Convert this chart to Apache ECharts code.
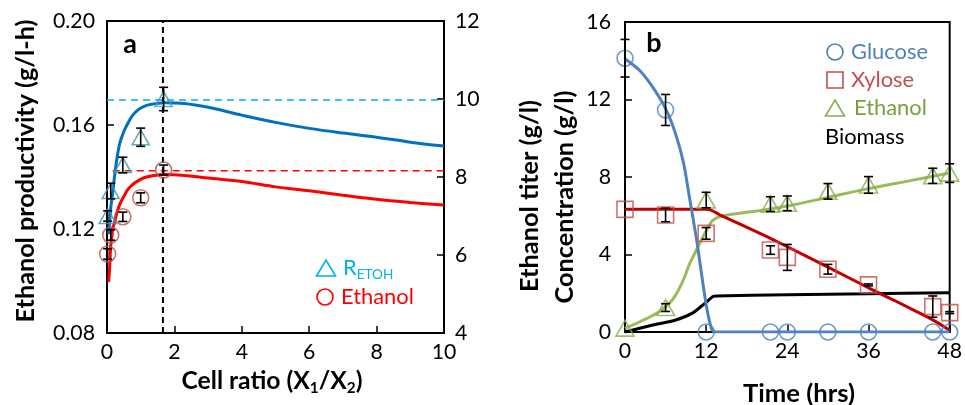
<!DOCTYPE html>
<html><head><meta charset="utf-8">
<script src="https://cdn.jsdelivr.net/npm/echarts@6/dist/echarts.min.js"></script>
<style>html,body{margin:0;padding:0;background:#fff}#c{width:965px;height:405px}</style>
</head><body><div id="c"></div>
<script>
// ---------- Panel a: productivity vs cell ratio ----------
const aPointX   = [0.02, 0.11, 0.47, 1.0, 1.68];
const aRateY    = [0.1250, 0.1346, 0.1446, 0.1553, 0.1700];
const aRateErr  = [0.002, 0.003, 0.003, 0.0035, 0.0045];
const aEthY     = [0.1104, 0.1177, 0.1247, 0.1320, 0.1427];
const aEthErr   = [0.002, 0.002, 0.0018, 0.0019, 0.0019];

const aCurveX    = [0.05,0.08,0.11,0.15,0.18,0.23,0.3,0.38,0.5,0.62,0.75,0.92,1.1,1.32,1.7,2.3,3,4,5,6,7,8,9,10];
const aRateCurve = [0.118,0.123,0.128,0.132,0.135,0.141,0.1475,0.153,0.1575,0.1607,0.1635,0.1658,0.1672,0.168,0.1686,0.1683,0.1668,0.1638,0.161,0.1587,0.1569,0.1553,0.1534,0.1519];
const aEthCurve  = [0.0997,0.1055,0.1132,0.118,0.1205,0.1228,0.1265,0.1295,0.1325,0.1352,0.137,0.1385,0.1397,0.1404,0.141,0.1406,0.1396,0.1383,0.1362,0.1347,0.133,0.1314,0.1302,0.1292];

const aRateRefX = [0, 10];   const aRateRefY = 0.1696;
const aEthRefX  = [0.17, 10]; const aEthRefY  = 0.1424;
const aPeakX = 1.66;          const aPeakY = [0.08, 0.20];

const aXTicks = [0, 10, 2];        // min, max, interval
const aYTicks = [0.08, 0.20, 0.04];
const aY2Ticks = [4, 12, 2];

// ---------- Panel b: time course ----------
const bTime        = [0, 6, 12, 21.5, 24, 30, 36, 45.5, 48];
const bGlucose     = [14.13, 11.46, 0, 0, 0, 0, 0, 0, 0];
const bGlucoseErr  = [0.97, 0.8, 0, 0, 0, 0, 0, 0, 0];
const bXylose      = [6.33, 6.04, 5.09, 4.23, 3.85, 3.24, 2.43, 1.31, 1.0];
const bXyloseErr   = [0, 0.35, 0.3, 0.22, 0.67, 0.25, 0.05, 0.55, 0.05];
const bEthanol     = [0.2, 1.26, 6.81, 6.6, 6.64, 7.26, 7.59, 8.06, 8.2];
const bEthanolErr  = [0, 0.2, 0.4, 0.38, 0.38, 0.4, 0.43, 0.39, 0.48];

const bGluCurveT = [0,2.17,4.1,6,7.47,8.67,9.6,10.6,11.3,12.05,12.8,13.2,48];
const bGluCurve  = [14.1,13.5,12.64,11.53,10.24,8.7,6.8,4.74,3.03,1.3,0.15,0,0];
const bXylCurveT = [0,12,12.8,14,20.5,24,30,36.6,40,44.6,46.5,47.7,48];
const bXylCurve  = [6.33,6.33,6.28,6.05,5.0,4.4,3.35,2.17,1.6,0.79,0.42,0.15,0.1];
const bEthCurveT = [0,2.2,5.06,6.99,8.4,9.6,10.8,11.8,12.8,13.7,15.2,20.5,24,30,36,42,48];
const bEthCurve  = [0.19,0.53,1.05,1.65,2.51,3.55,4.4,5.09,5.7,5.92,6.04,6.3,6.5,6.95,7.4,7.8,8.21];
const bBioT      = [0,4.1,7.5,9.9,11.8,13,13.5,24,36,48];
const bBio       = [0,0.36,0.62,0.96,1.48,1.83,1.86,1.92,1.97,2.03];

const bXTicks = [0, 48, 12];
const bYTicks = [0, 16, 4];

// ---------- font fitting (match reference text widths) ----------
const FONT = 'Lato';
const mctx = document.createElement('canvas').getContext('2d');
function textW(str, weight, size) { mctx.font = weight + ' ' + size + 'px ' + FONT; return mctx.measureText(str).width; }
const SUB = 0.62;
function fit(parts, target, weight) {
  let w = 0;
  parts.forEach(p => { w += textW(p[0], weight, 100 * p[1]); });
  return 100 * target / w;
}
const TICK_SIZE = fit([['0.20', 1]], 42, 'normal');
const LEG_SIZE  = fit([['Glucose', 1]], 77, 'normal');
const T_YA   = fit([['Ethanol productivity (g/l-h)', 1]], 303, 'bold');
const T_XA   = fit([['Cell ratio (X', 1], ['1', SUB], ['/X', 1], ['2', SUB], [')', 1]], 181, 'bold');
const T_XB   = fit([['Time (hrs)', 1]], 112, 'bold');
const T_YB1  = fit([['Ethanol titer (g/l)', 1]], 192, 'bold');
const T_YB2  = fit([['Concentration (g/l)', 1]], 213, 'bold');

// ---------- helpers ----------
const zip = (xs, ys) => xs.map((x, i) => [x, ys[i]]);
const zip3 = (xs, ys, es) => xs.map((x, i) => [x, ys[i], es[i]]);

function errSeries(data, xi, yi) {
  return {
    type: 'custom', xAxisIndex: xi, yAxisIndex: yi, z: 5, silent: true,
    data: data.filter(d => d[2] > 0),
    renderItem: (params, api) => {
      const x = api.value(0), y = api.value(1), e = api.value(2);
      const t = api.coord([x, y + e]), b = api.coord([x, y - e]);
      const h = 4.5;
      const st = { stroke: '#000', lineWidth: 1.6 };
      return { type: 'group', children: [
        { type: 'line', shape: { x1: t[0], y1: t[1], x2: b[0], y2: b[1] }, style: st },
        { type: 'line', shape: { x1: t[0]-h, y1: t[1], x2: t[0]+h, y2: t[1] }, style: st },
        { type: 'line', shape: { x1: b[0]-h, y1: b[1], x2: b[0]+h, y2: b[1] }, style: st }
      ]};
    }
  };
}
function curve(xs, ys, color, xi, yi, extra) {
  return Object.assign({ type: 'line', xAxisIndex: xi, yAxisIndex: yi, data: zip(xs, ys),
    showSymbol: false, symbol: 'none', smooth: 0.3, z: 2, silent: true,
    lineStyle: { color: color, width: 3 } }, extra || {});
}
function marks(xs, ys, symbol, size, color, xi, yi) {
  return { type: 'scatter', xAxisIndex: xi, yAxisIndex: yi, data: zip(xs, ys), symbol: symbol,
    symbolSize: size, z: 4, silent: true,
    itemStyle: { color: 'rgba(0,0,0,0)', borderColor: color, borderWidth: 1.6 } };
}
function ax(o, labelExtra) {
  return Object.assign({
    type: 'value',
    axisLine: { show: true, lineStyle: { color: '#000', width: 2 } },
    axisTick: { show: true, inside: true, length: 7, lineStyle: { color: '#000', width: 1.5 } },
    axisLabel: Object.assign({ color: '#000', fontSize: TICK_SIZE, fontFamily: FONT }, labelExtra || {}),
    splitLine: { show: false }
  }, o);
}
function txt(x, y, text, opts) {
  opts = opts || {};
  const size = opts.size || LEG_SIZE;
  return { type: 'text', x: x, y: y, rotation: opts.rot || 0, z: 10, silent: true,
    style: Object.assign({ text: text, fill: opts.color || '#000',
      font: (opts.bold ? 'bold ' : '') + size.toFixed(2) + 'px ' + FONT,
      textAlign: opts.align || 'center', align: opts.align || 'center',
      textVerticalAlign: 'middle', verticalAlign: 'middle' }, opts.style || {}) };
}
const subRich = (color, bold, size) => ({
  m: { fontSize: size, fontFamily: FONT, fontWeight: bold ? 'bold' : 'normal', fill: color, color: color },
  s: { fontSize: size * SUB, fontFamily: FONT, fontWeight: bold ? 'bold' : 'normal', fill: color, color: color, padding: [size * 0.6, 0, 0, 0] }
});

const chart = echarts.init(document.getElementById('c'), null, { renderer: 'canvas' });
chart.setOption({
  animation: false,
  backgroundColor: '#fff',
  grid: [
    { left: 107, top: 21, width: 337, height: 312, show: true, borderColor: '#000', borderWidth: 2, backgroundColor: 'rgba(0,0,0,0)' },
    { left: 625, top: 22, width: 332, height: 310, show: true, borderColor: '#000', borderWidth: 2, backgroundColor: 'rgba(0,0,0,0)' }
  ],
  xAxis: [
    ax({ gridIndex: 0, min: aXTicks[0], max: aXTicks[1], interval: aXTicks[2] }, { margin: 9 }),
    ax({ gridIndex: 1, min: bXTicks[0], max: bXTicks[1], interval: bXTicks[2] }, { margin: 9 })
  ],
  yAxis: [
    ax({ gridIndex: 0, min: aYTicks[0], max: aYTicks[1], interval: aYTicks[2] }, { margin: 12, formatter: v => v.toFixed(2) }),
    ax({ gridIndex: 0, position: 'right', min: aY2Ticks[0], max: aY2Ticks[1], interval: aY2Ticks[2] }, { margin: 11 }),
    ax({ gridIndex: 1, min: bYTicks[0], max: bYTicks[1], interval: bYTicks[2] }, { margin: 14 })
  ],
  series: [
    // panel a reference lines
    curve(aRateRefX, [aRateRefY, aRateRefY], '#00B0F0', 0, 0, { smooth: false, z: 1, lineStyle: { color: '#00B0F0', width: 1.6, type: [7, 5] } }),
    curve(aEthRefX, [aEthRefY, aEthRefY], '#FF0000', 0, 0, { smooth: false, z: 1, lineStyle: { color: '#FF0000', width: 1.6, type: [7, 5] } }),
    curve([aPeakX, aPeakX], aPeakY, '#000', 0, 0, { smooth: false, z: 1, lineStyle: { color: '#000', width: 2, type: [6, 4] } }),
    // panel a curves
    curve(aCurveX, aRateCurve, '#0070C0', 0, 0),
    curve(aCurveX, aEthCurve, '#FF0000', 0, 0),
    marks(aPointX, aRateY, 'triangle', [17, 15], '#4198AF', 0, 0),
    marks(aPointX, aEthY, 'circle', 16, '#B5524F', 0, 0),
    errSeries(zip3(aPointX, aRateY, aRateErr), 0, 0),
    errSeries(zip3(aPointX, aEthY, aEthErr), 0, 0),
    // panel b curves
    curve(bBioT, bBio, '#000000', 1, 2, { smooth: 0.3 }),
    curve(bEthCurveT, bEthCurve, '#9BBB59', 1, 2),
    curve(bXylCurveT, bXylCurve, '#C00000', 1, 2, { smooth: 0.2 }),
    curve(bGluCurveT, bGluCurve, '#4F81BD', 1, 2, { smooth: 0.2 }),
    marks(bTime, bGlucose, 'circle', 16, '#4F81BD', 1, 2),
    marks(bTime, bXylose, 'rect', 16, '#C0504D', 1, 2),
    marks(bTime, bEthanol, 'triangle', [18, 16], '#8AAE4C', 1, 2),
    errSeries(zip3(bTime, bGlucose, bGlucoseErr), 1, 2),
    errSeries(zip3(bTime, bXylose, bXyloseErr), 1, 2),
    errSeries(zip3(bTime, bEthanol, bEthanolErr), 1, 2)
  ],
  graphic: [
    txt(130, 44, 'a', { bold: true, size: T_XB * 1.05 }),
    txt(654, 43, 'b', { bold: true, size: T_XB * 1.05 }),
    txt(26, 171, 'Ethanol productivity (g/l-h)', { bold: true, rot: Math.PI / 2, size: T_YA }),
    txt(272, 381, '{m|Cell ratio (X}{s|1}{m|/X}{s|2}{m|)}', { bold: true, size: T_XA, style: { rich: subRich('#000', true, T_XA) } }),
    txt(799, 394, 'Time (hrs)', { bold: true, size: T_XB }),
    txt(530, 196, 'Ethanol titer (g/l)', { bold: true, rot: Math.PI / 2, size: T_YB1 }),
    txt(565, 197, 'Concentration (g/l)', { bold: true, rot: Math.PI / 2, size: T_YB2 }),
    // legend a
    { type: 'polygon', z: 10, silent: true, shape: { points: [[316.5, 276], [335.5, 276], [326, 260]] }, style: { fill: 'none', stroke: '#00B0F0', lineWidth: 1.6 } },
    txt(343, 268, '{m|R}{s|ETOH}', { align: 'left', color: '#00B0F0', style: { rich: subRich('#00B0F0', false, LEG_SIZE) } }),
    { type: 'circle', z: 10, silent: true, shape: { cx: 325, cy: 297, r: 8 }, style: { fill: 'none', stroke: '#FF0000', lineWidth: 1.6 } },
    txt(341, 297, 'Ethanol', { align: 'left', color: '#FF0000' }),
    // legend b
    { type: 'circle', z: 10, silent: true, shape: { cx: 835, cy: 52, r: 8 }, style: { fill: 'none', stroke: '#4F81BD', lineWidth: 1.6 } },
    txt(851, 52, 'Glucose', { align: 'left', color: '#4F81BD' }),
    { type: 'rect', z: 10, silent: true, shape: { x: 827, y: 72, width: 16, height: 16 }, style: { fill: 'none', stroke: '#C0504D', lineWidth: 1.6 } },
    txt(851, 80, 'Xylose', { align: 'left', color: '#C0504D' }),
    { type: 'polygon', z: 10, silent: true, shape: { points: [[825.5, 116], [844.5, 116], [835, 100]] }, style: { fill: 'none', stroke: '#8AAE4C', lineWidth: 1.6 } },
    txt(854, 108, 'Ethanol', { align: 'left', color: '#77A03B' }),
    txt(825, 137, 'Biomass', { align: 'left', color: '#000' })
  ]
});
</script>
</body></html>
